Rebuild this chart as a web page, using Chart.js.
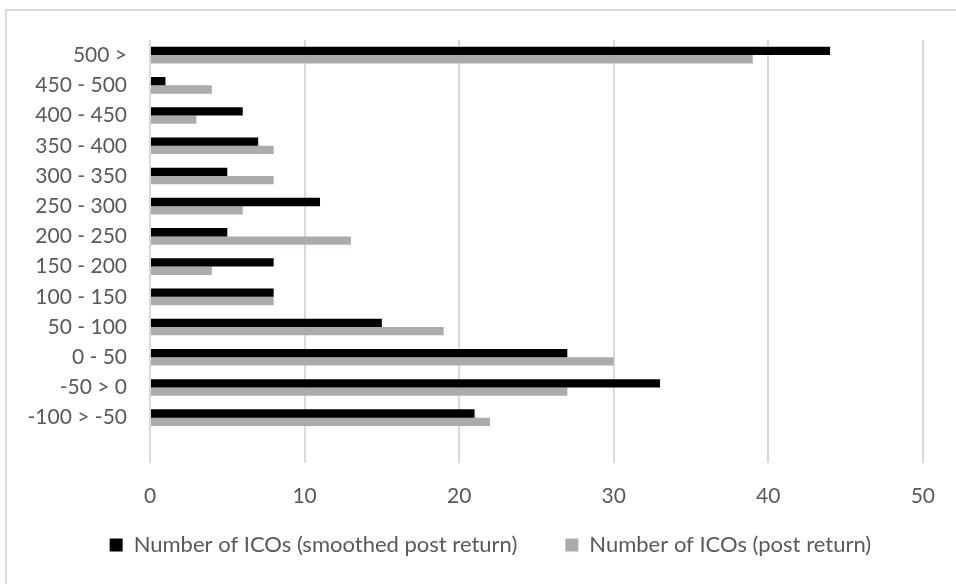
<!DOCTYPE html>
<html>
<head>
<meta charset="utf-8">
<script src="https://cdn.jsdelivr.net/npm/chart.js@4/dist/chart.umd.min.js"></script>
<style>
  html, body { margin: 0; padding: 0; background: #ffffff; }
  #wrap { width: 956px; height: 584px; position: relative; }
</style>
</head>
<body>
<div id="wrap"><canvas id="c" width="956" height="584"></canvas></div>
<script>
// Return buckets, top to bottom; the trailing blank slot leaves the gap above the axis
const categories = ['500 >', '450 - 500', '400 - 450', '350 - 400', '300 - 350', '250 - 300',
  '200 - 250', '150 - 200', '100 - 150', '50 - 100', '0 - 50', '-50 > 0', '-100 > -50', ''];

const smoothedCounts = [44, 1, 6, 7, 5, 11, 5, 8, 8, 15, 27, 33, 21, null];
const postCounts     = [39, 4, 3, 8, 8, 6, 13, 4, 8, 19, 30, 27, 22, null];

const xTicks = [0, 10, 20, 30, 40, 50];

const seriesNames = ['Number of ICOs (smoothed post return)', 'Number of ICOs (post return)'];

const textColor = '#595959';
const gridColor = '#d9d9d9';

Chart.defaults.font.family = 'Lato, "Open Sans", sans-serif';
Chart.defaults.font.size = 21;
Chart.defaults.color = textColor;

// Light frame around the chart
const framePlugin = {
  id: 'frame',
  beforeDraw(chart) {
    const ctx = chart.ctx;
    ctx.save();
    ctx.fillStyle = '#ffffff';
    ctx.fillRect(0, 0, chart.width, chart.height);
    ctx.strokeStyle = gridColor;
    ctx.lineWidth = 2;
    ctx.strokeRect(6, 10, chart.width + 20, chart.height + 20);
    ctx.restore();
  }
};

// Centre the legend under the plot area and lift it closer to the axis labels
const legendPlacePlugin = {
  id: 'legendPlace',
  afterLayout(chart) {
    const lg = chart.legend;
    if (!lg) return;
    const h = lg.height;
    lg.left = 58;
    lg.right = chart.chartArea.right;
    lg.width = lg.right - lg.left;
    lg.top = 486;
    lg.bottom = lg.top + h;
  }
};

new Chart(document.getElementById('c'), {
  type: 'bar',
  data: {
    labels: categories,
    datasets: [
      {
        label: seriesNames[0],
        data: smoothedCounts,
        backgroundColor: '#000000',
        borderWidth: 0
      },
      {
        label: seriesNames[1],
        data: postCounts,
        backgroundColor: '#aeaaaa',
        borderWidth: 0
      }
    ]
  },
  options: {
    indexAxis: 'y',
    responsive: false,
    animation: false,
    devicePixelRatio: 1,
    categoryPercentage: 0.55,
    barPercentage: 1.0,
    layout: { padding: { left: 0, right: 31, top: 40, bottom: -11 } },
    scales: {
      x: {
        min: 0,
        max: 50,
        afterBuildTicks(scale) {
          scale.ticks = xTicks.map(v => ({ value: v }));
        },
        afterFit(scale) { scale.height = 52; },
        grid: { color: gridColor, lineWidth: 2, drawTicks: false },
        border: { display: false },
        ticks: { padding: 21, color: textColor, font: { size: 21 } }
      },
      y: {
        afterFit(scale) { scale.width = 150; },
        grid: { display: false, drawTicks: false },
        border: { display: false },
        ticks: { padding: 23, color: textColor, font: { size: 21 }, autoSkip: false }
      }
    },
    plugins: {
      legend: {
        position: 'bottom',
        labels: {
          boxWidth: 13,
          boxHeight: 13,
          padding: 48,
          color: textColor,
          font: { size: 22 }
        }
      },
      tooltip: { enabled: false }
    }
  },
  plugins: [framePlugin, legendPlacePlugin]
});
</script>
</body>
</html>
